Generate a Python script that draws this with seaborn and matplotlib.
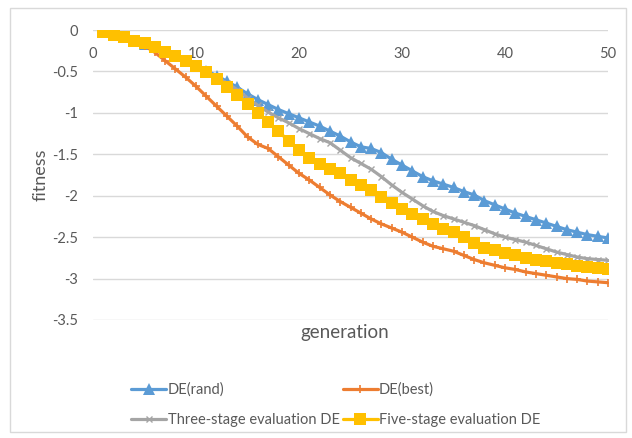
import numpy as np
import pandas as pd
import matplotlib
matplotlib.use("Agg")
import matplotlib.pyplot as plt
from matplotlib.patches import Rectangle
import seaborn as sns

# Convergence of the four DE variants over 50 generations
generation = list(range(1, 51))

de_rand = [-0.02, -0.05, -0.09, -0.13, -0.17, -0.21, -0.26, -0.31, -0.37, -0.43,
           -0.49, -0.55, -0.62, -0.69, -0.77, -0.84, -0.90, -0.96, -1.01, -1.06,
           -1.11, -1.16, -1.22, -1.28, -1.35, -1.41, -1.43, -1.48, -1.56, -1.63,
           -1.70, -1.77, -1.82, -1.86, -1.90, -1.95, -1.99, -2.06, -2.11, -2.16,
           -2.21, -2.25, -2.29, -2.33, -2.37, -2.41, -2.44, -2.47, -2.49, -2.51]

de_best = [-0.02, -0.05, -0.09, -0.14, -0.19, -0.27, -0.37, -0.47, -0.57, -0.68,
           -0.80, -0.92, -1.04, -1.16, -1.29, -1.38, -1.43, -1.53, -1.63, -1.73,
           -1.81, -1.90, -1.99, -2.07, -2.14, -2.21, -2.28, -2.34, -2.39, -2.44,
           -2.50, -2.56, -2.61, -2.64, -2.67, -2.72, -2.77, -2.81, -2.84, -2.87,
           -2.89, -2.92, -2.94, -2.96, -2.98, -3.00, -3.01, -3.03, -3.04, -3.05]

three_stage = [-0.02, -0.05, -0.09, -0.13, -0.17, -0.21, -0.26, -0.31, -0.37, -0.44,
               -0.50, -0.57, -0.64, -0.72, -0.82, -0.91, -0.99, -1.06, -1.12, -1.19,
               -1.25, -1.31, -1.36, -1.45, -1.54, -1.61, -1.68, -1.77, -1.87, -1.96,
               -2.04, -2.12, -2.19, -2.24, -2.28, -2.32, -2.36, -2.41, -2.46, -2.50,
               -2.53, -2.56, -2.60, -2.64, -2.68, -2.71, -2.74, -2.76, -2.77, -2.78]

five_stage = [-0.03, -0.06, -0.09, -0.13, -0.16, -0.20, -0.26, -0.31, -0.37, -0.43,
              -0.51, -0.59, -0.69, -0.79, -0.89, -1.00, -1.11, -1.22, -1.34, -1.45,
              -1.54, -1.62, -1.68, -1.73, -1.81, -1.87, -1.93, -2.01, -2.09, -2.16,
              -2.22, -2.28, -2.34, -2.40, -2.44, -2.50, -2.57, -2.63, -2.66, -2.69,
              -2.72, -2.75, -2.77, -2.79, -2.81, -2.83, -2.85, -2.86, -2.87, -2.88]

series_names = ["DE(rand)", "DE(best)", "Three-stage evaluation DE", "Five-stage evaluation DE"]
series_values = [de_rand, de_best, three_stage, five_stage]

x_ticks = [0, 10, 20, 30, 40, 50]
y_ticks = [0, -0.5, -1, -1.5, -2, -2.5, -3, -3.5]

colors = ["#5B9BD5", "#ED7D31", "#A5A5A5", "#FFC000"]
markers = ["^", "+", "x", "s"]
msizes = [8.5, 6, 5, 8]
medge = [0, 1.2, 1.0, 0]

sns.set_theme(style="white")
plt.rcParams["font.family"] = ["Lato", "DejaVu Sans"]

fig = plt.figure(figsize=(6.32, 4.38), dpi=100)
ax = fig.add_axes([93 / 632, 1 - 320 / 438, (608 - 93) / 632, (320 - 30) / 438])

df = pd.DataFrame({
    "generation": np.tile(generation, len(series_names)),
    "fitness": np.concatenate(series_values),
    "series": np.repeat(series_names, len(generation)),
})

for name, col, mk, ms, me in zip(series_names, colors, markers, msizes, medge):
    sub = df[df["series"] == name]
    sns.lineplot(data=sub, x="generation", y="fitness", ax=ax, color=col,
                 linewidth=2.3, marker=mk, markersize=ms, markeredgewidth=me,
                 markeredgecolor=col, markerfacecolor=col, label=name,
                 legend=False, errorbar=None)

ax.set_xlim(0, 50)
ax.set_ylim(-3.5, 0)
ax.set_xticks(x_ticks)
ax.set_yticks(y_ticks)
ax.set_yticklabels([f"{v:g}" for v in y_ticks])
ax.yaxis.grid(True, color="#D9D9D9", linewidth=1.0)
ax.xaxis.grid(False)
ax.set_axisbelow(True)
for s in ax.spines.values():
    s.set_visible(False)

ax.tick_params(axis="x", bottom=False, top=False, labelbottom=False, labeltop=True,
               pad=-28, labelsize=10.5, labelcolor="#595959")
ax.tick_params(axis="y", left=False, pad=5, labelsize=10.5, labelcolor="#595959")

ax.set_xlabel("generation", fontsize=13.5, color="#595959")
ax.xaxis.set_label_coords((345 - 93) / 515, -0.015)
ax.set_ylabel("fitness", fontsize=13, color="#595959")
ax.yaxis.set_label_coords(-0.086, 0.5)

# two rows: rand/best on top, three-stage/five-stage below
handles, labels = ax.get_legend_handles_labels()
order = [0, 2, 1, 3]
fig.legend([handles[i] for i in order], [labels[i] for i in order],
           loc="upper left", bbox_to_anchor=(124 / 632, 1 - 375 / 438),
           ncol=2, frameon=False, fontsize=10.5, handlelength=2.4, handletextpad=0.1,
           columnspacing=0.2, labelspacing=1.15, borderpad=0, labelcolor="#595959")

fig.patches.append(Rectangle((10 / 632, 6 / 438), 616 / 632, 424 / 438,
                             transform=fig.transFigure, fill=False,
                             edgecolor="#D9D9D9", linewidth=1.0))

fig.savefig("out.png", dpi=100)
